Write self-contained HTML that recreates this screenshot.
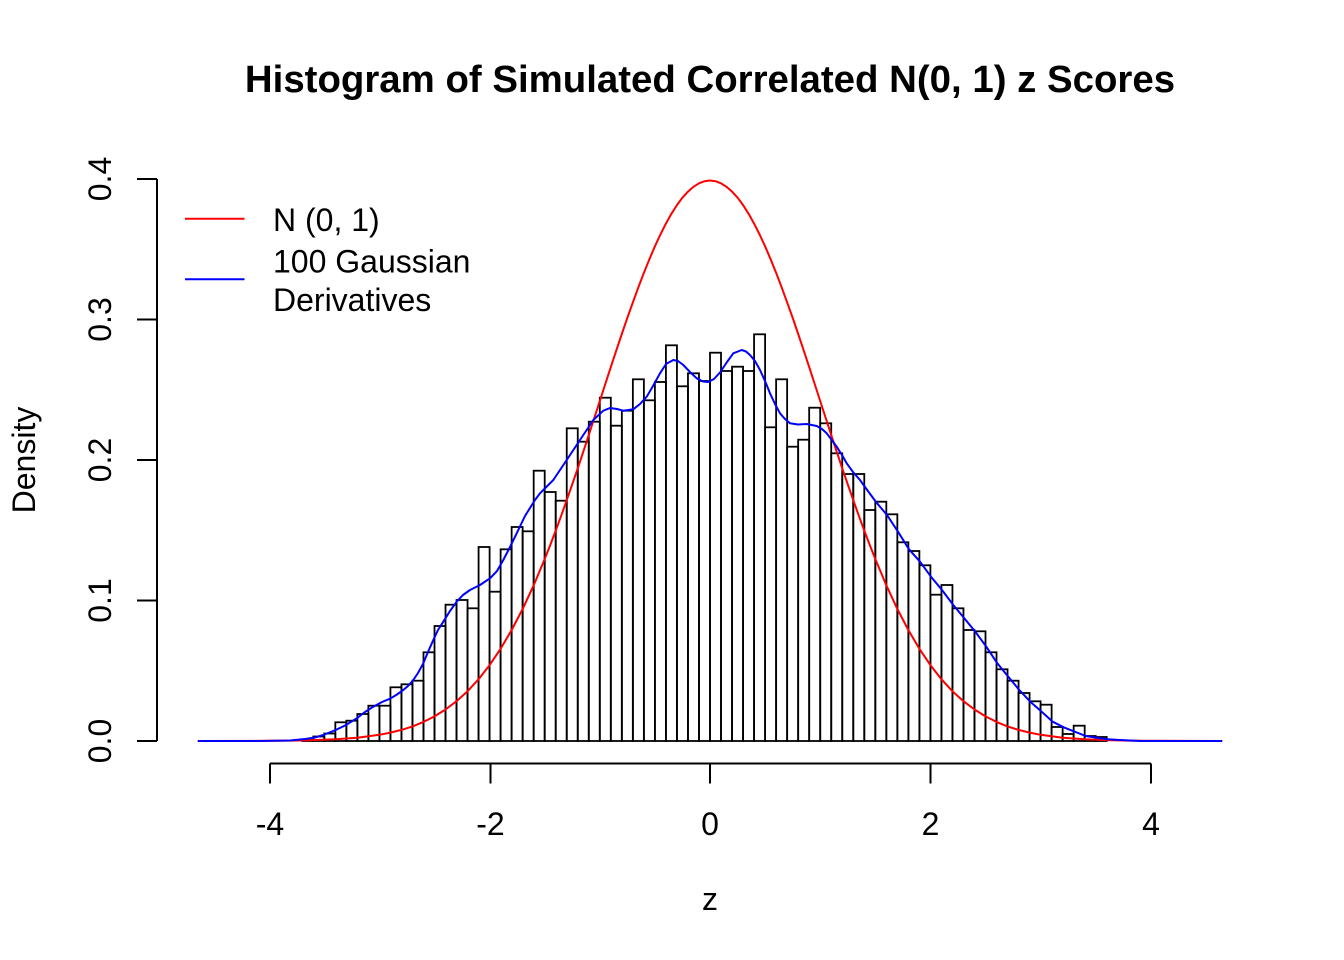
<!DOCTYPE html>
<html>
<head>
<meta charset="utf-8">
<style>
html,body{margin:0;padding:0;background:#fff;}
svg{display:block;font-family:"Liberation Sans",Helvetica,Arial,sans-serif;}
</style>
</head>
<body>
<svg width="1344" height="960" viewBox="0 0 1344 960" xmlns="http://www.w3.org/2000/svg">
<rect x="0" y="0" width="1344" height="960" fill="#fff"/>
<text x="710" y="92" text-anchor="middle" font-size="38.4" font-weight="bold" fill="#000">Histogram of Simulated Correlated N(0, 1) z Scores</text>
<g fill="none" stroke="#000" stroke-width="1.8">
<rect x="302.26" y="740" width="11.02" height="1"/>
<rect x="313.28" y="736.5" width="11.02" height="4.5"/>
<rect x="324.3" y="733.5" width="11.02" height="7.5"/>
<rect x="335.32" y="722.3" width="11.02" height="18.7"/>
<rect x="346.34" y="720.7" width="11.02" height="20.3"/>
<rect x="357.36" y="714" width="11.02" height="27"/>
<rect x="368.38" y="705.7" width="11.02" height="35.3"/>
<rect x="379.4" y="705.7" width="11.02" height="35.3"/>
<rect x="390.42" y="687.3" width="11.02" height="53.7"/>
<rect x="401.44" y="684.3" width="11.02" height="56.7"/>
<rect x="412.46" y="680.7" width="11.02" height="60.3"/>
<rect x="423.48" y="652.3" width="11.02" height="88.7"/>
<rect x="434.5" y="626" width="11.02" height="115"/>
<rect x="445.52" y="604.7" width="11.02" height="136.3"/>
<rect x="456.54" y="600" width="11.02" height="141"/>
<rect x="467.56" y="608.3" width="11.02" height="132.7"/>
<rect x="478.58" y="547" width="11.02" height="194"/>
<rect x="489.6" y="591.7" width="11.02" height="149.3"/>
<rect x="500.62" y="549.3" width="11.02" height="191.7"/>
<rect x="511.64" y="527" width="11.02" height="214"/>
<rect x="522.66" y="531.3" width="11.02" height="209.7"/>
<rect x="533.68" y="470.7" width="11.02" height="270.3"/>
<rect x="544.7" y="492" width="11.02" height="249"/>
<rect x="555.72" y="500.7" width="11.02" height="240.3"/>
<rect x="566.74" y="428.3" width="11.02" height="312.7"/>
<rect x="577.76" y="441.7" width="11.02" height="299.3"/>
<rect x="588.78" y="421.7" width="11.02" height="319.3"/>
<rect x="599.8" y="397.7" width="11.02" height="343.3"/>
<rect x="610.82" y="425.7" width="11.02" height="315.3"/>
<rect x="621.84" y="410.7" width="11.02" height="330.3"/>
<rect x="632.86" y="379.3" width="11.02" height="361.7"/>
<rect x="643.88" y="400.3" width="11.02" height="340.7"/>
<rect x="654.9" y="382" width="11.02" height="359"/>
<rect x="665.92" y="345.3" width="11.02" height="395.7"/>
<rect x="676.94" y="386.3" width="11.02" height="354.7"/>
<rect x="687.96" y="373.3" width="11.02" height="367.7"/>
<rect x="698.98" y="381" width="11.02" height="360"/>
<rect x="710" y="352.7" width="11.02" height="388.3"/>
<rect x="721.02" y="371" width="11.02" height="370"/>
<rect x="732.04" y="366.7" width="11.02" height="374.3"/>
<rect x="743.06" y="371" width="11.02" height="370"/>
<rect x="754.08" y="334.3" width="11.02" height="406.7"/>
<rect x="765.1" y="427.3" width="11.02" height="313.7"/>
<rect x="776.12" y="379.3" width="11.02" height="361.7"/>
<rect x="787.14" y="446.7" width="11.02" height="294.3"/>
<rect x="798.16" y="439.7" width="11.02" height="301.3"/>
<rect x="809.18" y="407.7" width="11.02" height="333.3"/>
<rect x="820.2" y="423.3" width="11.02" height="317.7"/>
<rect x="831.22" y="453.3" width="11.02" height="287.7"/>
<rect x="842.24" y="474" width="11.02" height="267"/>
<rect x="853.26" y="474" width="11.02" height="267"/>
<rect x="864.28" y="510" width="11.02" height="231"/>
<rect x="875.3" y="501.7" width="11.02" height="239.3"/>
<rect x="886.32" y="514.3" width="11.02" height="226.7"/>
<rect x="897.34" y="542.3" width="11.02" height="198.7"/>
<rect x="908.36" y="551" width="11.02" height="190"/>
<rect x="919.38" y="565.3" width="11.02" height="175.7"/>
<rect x="930.4" y="594.7" width="11.02" height="146.3"/>
<rect x="941.42" y="585" width="11.02" height="156"/>
<rect x="952.44" y="608.3" width="11.02" height="132.7"/>
<rect x="963.46" y="630" width="11.02" height="111"/>
<rect x="974.48" y="631.3" width="11.02" height="109.7"/>
<rect x="985.5" y="652.3" width="11.02" height="88.7"/>
<rect x="996.52" y="669.3" width="11.02" height="71.7"/>
<rect x="1007.54" y="680.7" width="11.02" height="60.3"/>
<rect x="1018.56" y="693" width="11.02" height="48"/>
<rect x="1029.58" y="701.3" width="11.02" height="39.7"/>
<rect x="1040.6" y="704.7" width="11.02" height="36.3"/>
<rect x="1051.62" y="727" width="11.02" height="14"/>
<rect x="1062.64" y="734" width="11.02" height="7"/>
<rect x="1073.66" y="725.7" width="11.02" height="15.3"/>
<rect x="1084.68" y="736" width="11.02" height="5"/>
<rect x="1095.7" y="737" width="11.02" height="4"/>
</g>
<polyline fill="none" stroke="#ff0000" stroke-width="2" stroke-linejoin="round" points="197.6,741 269.2,740.8 291.2,740.6 313.3,740.1 335.3,739.3 357.4,737.7 379.4,734.8 390.4,732.6 401.4,729.9 412.5,726.4 423.5,721.9 434.5,716.4 445.5,709.5 456.5,701.2 467.6,691.2 478.6,679.2 489.6,665.1 500.6,648.8 511.6,630.1 522.7,608.9 533.7,585.2 544.7,559 550.2,545.1 555.7,530.6 561.2,515.7 566.7,500.2 572.2,484.4 577.8,468.2 583.3,451.7 588.8,434.9 594.3,418 599.8,401 605.3,384 610.8,367.1 616.3,350.4 621.8,334 627.3,317.9 632.9,302.3 638.4,287.2 643.9,272.8 649.4,259.2 654.9,246.3 660.4,234.5 665.9,223.6 671.4,213.8 676.9,205.1 682.4,197.7 688,191.6 693.5,186.8 699,183.3 704.5,181.2 710,180.5 715.5,181.2 721,183.3 726.5,186.8 732,191.6 737.6,197.7 743.1,205.1 748.6,213.8 754.1,223.6 759.6,234.5 765.1,246.3 770.6,259.2 776.1,272.8 781.6,287.2 787.1,302.3 792.7,317.9 798.2,334 803.7,350.4 809.2,367.1 814.7,384 820.2,401 825.7,418 831.2,434.9 836.7,451.7 842.2,468.2 847.8,484.4 853.3,500.2 858.8,515.7 864.3,530.6 869.8,545.1 875.3,559 886.3,585.2 897.3,608.9 908.4,630.1 919.4,648.8 930.4,665.1 941.4,679.2 952.4,691.2 963.5,701.2 974.5,709.5 985.5,716.4 996.5,721.9 1007.5,726.4 1018.6,729.9 1029.6,732.6 1040.6,734.8 1062.6,737.7 1084.7,739.3 1106.7,740.1 1128.8,740.6 1150.8,740.8 1222.4,741"/>
<polyline fill="none" stroke="#0000ff" stroke-width="2" stroke-linejoin="round" points="198,741 260,741 290,740.5 305,739 315,737.5 323.3,735 335.7,730 346,725 356.7,718.3 365,712 373.3,706.7 382,702 390,698.7 397,694.5 403.3,690 408,686 413.3,680 418,673 423.3,663.3 428,652 433.3,640 438,630 443.3,621.7 450,611 456.7,601.7 463,595 470,590 480,585 490,578.3 497,571 503.3,560 510,547 516.7,533.3 525,516 535,500 540,493.3 553.3,480 566.7,460 580,440 593.3,420 603.3,410.7 610,408 617,409 623.3,410.7 633.3,409.3 640,404 646.7,396.7 653,386 660,373.3 666,364 673.3,360 678,361 683.3,365 690,372 696.7,378.3 703,381.5 708,382 714,379 720,372.5 727,362 733.3,353.3 741.7,350 746,351.5 750,355 755,361 760,370 765,381 770,393.3 775,404 780,413.3 785,419 790,423.3 798,424.5 806.7,424 816.7,426 822,429 826.7,433.3 831,439 836.7,446.7 842,455 846.7,463.3 853,472 860,480 865,487 876,502 887,515 898,531.7 909,549.3 920,561.7 931,576.7 942,590 953.3,605 964.3,618.3 975.3,631.7 986.3,646.7 997.3,663.3 1008.3,676.7 1019.3,690 1030.3,701.7 1041.7,711.7 1052.7,721.7 1063.7,727.3 1074.7,731.7 1085.7,736 1096.7,737.7 1107.7,739.3 1120,740 1140,741 1222,741"/>
<g stroke="#000" stroke-width="2" fill="none">
<line x1="270" y1="763.5" x2="1151" y2="763.5"/>
<line x1="270" y1="763.5" x2="270" y2="783.5"/>
<line x1="490.5" y1="763.5" x2="490.5" y2="783.5"/>
<line x1="710" y1="763.5" x2="710" y2="783.5"/>
<line x1="930.5" y1="763.5" x2="930.5" y2="783.5"/>
<line x1="1151" y1="763.5" x2="1151" y2="783.5"/>
<line x1="157" y1="179" x2="157" y2="741"/>
<line x1="137" y1="741" x2="157" y2="741"/>
<line x1="137" y1="600.5" x2="157" y2="600.5"/>
<line x1="137" y1="460" x2="157" y2="460"/>
<line x1="137" y1="319.5" x2="157" y2="319.5"/>
<line x1="137" y1="179" x2="157" y2="179"/>
</g>
<g font-size="32" fill="#000" text-anchor="middle">
<text x="270" y="835">-4</text>
<text x="490.5" y="835">-2</text>
<text x="710" y="835">0</text>
<text x="930.5" y="835">2</text>
<text x="1151" y="835">4</text>
<text x="710" y="910">z</text>
<text transform="translate(111,741) rotate(-90)">0.0</text>
<text transform="translate(111,600.5) rotate(-90)">0.1</text>
<text transform="translate(111,460) rotate(-90)">0.2</text>
<text transform="translate(111,319.5) rotate(-90)">0.3</text>
<text transform="translate(111,179) rotate(-90)">0.4</text>
<text transform="translate(35,460) rotate(-90)">Density</text>
</g>
<line x1="185" y1="218.7" x2="244.5" y2="218.7" stroke="#ff0000" stroke-width="2"/>
<line x1="185" y1="279.3" x2="244.5" y2="279.3" stroke="#0000ff" stroke-width="2"/>
<g font-size="32" fill="#000">
<text x="273" y="231">N (0, 1)</text>
<text x="273" y="272.5">100 Gaussian</text>
<text x="273" y="311">Derivatives</text>
</g>
</svg>
</body>
</html>
